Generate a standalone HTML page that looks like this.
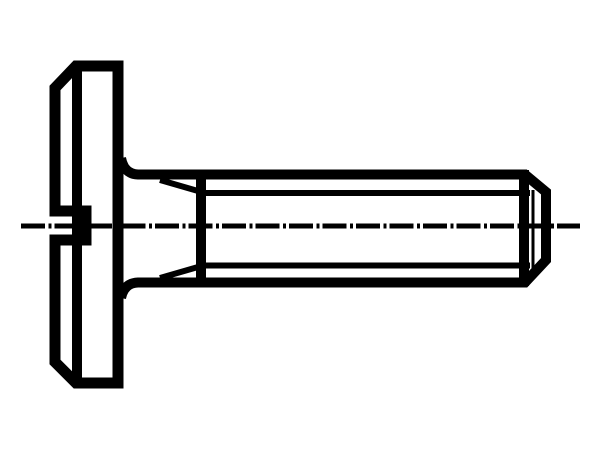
<!DOCTYPE html>
<html><head><style>html,body{margin:0;padding:0;background:#fff;}svg{display:block}</style></head>
<body>
<svg width="600" height="450" viewBox="0 0 600 450" xmlns="http://www.w3.org/2000/svg">
<g fill="none" stroke="#000" stroke-linejoin="miter">
  <path d="M118,66 L76,66 L55,88 L55,211 L86,211 L86,240 L55,240 L55,362 L76,383 L118,383 Z" stroke-width="11"/>
  <line x1="77" y1="66" x2="77" y2="383" stroke-width="10"/>
  <line x1="118" y1="61" x2="118" y2="388" stroke-width="11"/>
  <path d="M121,158 Q124,174 138,174.5 L525,174.5 L546,192 L546,260 L525,282.5 L138,282.5 Q124,283 121,298" stroke-width="10"/>
  <line x1="201" y1="178" x2="201" y2="280" stroke-width="10"/>
  <line x1="524" y1="170" x2="524" y2="286" stroke-width="10"/>
  <line x1="533" y1="190" x2="533" y2="268" stroke-width="3"/>
  <line x1="201" y1="193" x2="530" y2="193" stroke-width="6"/>
  <line x1="201" y1="265.5" x2="530" y2="265.5" stroke-width="6"/>
  <line x1="160" y1="180" x2="198" y2="191" stroke-width="6"/>
  <line x1="160" y1="278" x2="198" y2="267" stroke-width="6"/>
  <line x1="21" y1="226" x2="580" y2="226" stroke-width="5" stroke-dasharray="24,3.5,3,3"/>
</g>
</svg>
</body></html>
